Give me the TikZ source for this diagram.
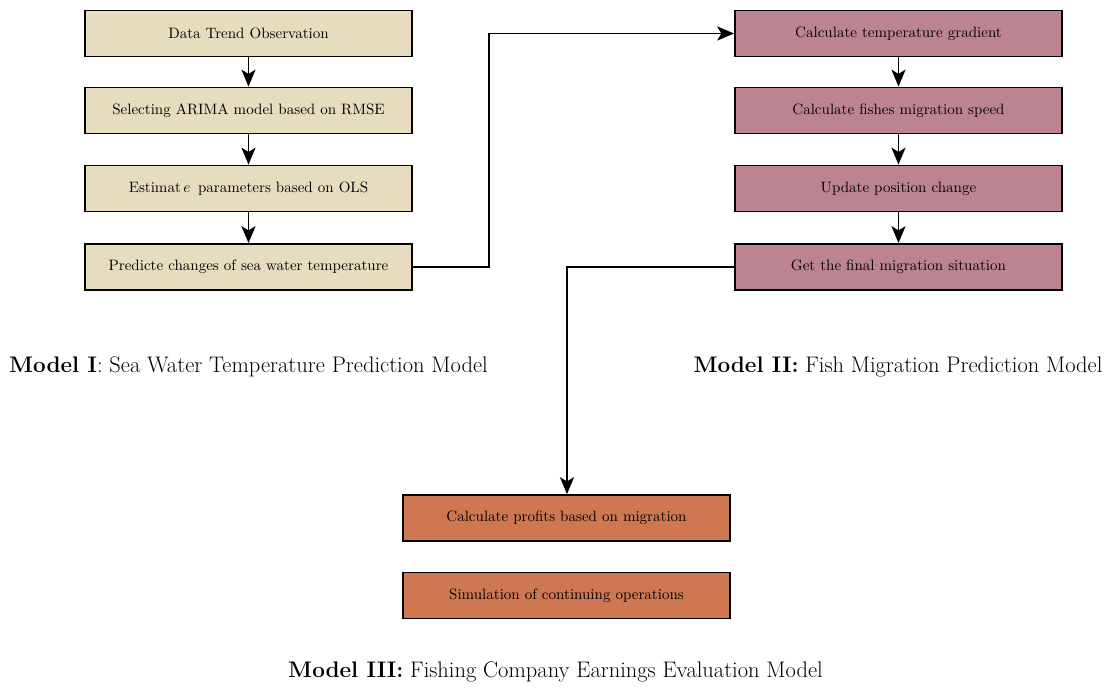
\documentclass[tikz,border=0pt]{standalone}
\usepackage{fontspec}
\usetikzlibrary{arrows.meta}
\definecolor{sandfill}{HTML}{E8DCBF}
\definecolor{mauvefill}{HTML}{BC8491}
\definecolor{rustfill}{HTML}{CE7750}
\begin{document}
\begin{tikzpicture}[x=0.025cm,y=-0.025cm,
  box/.style={draw=black,line width=1.3pt,minimum width=8.175cm,minimum height=1.15cm,
    inner sep=0pt,font=\fontsize{10.7}{12}\selectfont},
  sandbox/.style={box,fill=sandfill},
  mauvebox/.style={box,fill=mauvefill},
  rustbox/.style={box,fill=rustfill},
  link/.style={line width=1.4pt,-{Stealth[length=12pt,width=10pt,inset=3pt]}},
  caption/.style={font=\fontsize{16}{19}\selectfont,inner sep=0pt}]
\useasboundingbox (0,0) rectangle (1105,688);

% Model I
\node[sandbox] (a1) at (248.5,33.5) {Data Trend Observation};
\node[sandbox] (a2) at (248.5,110.5) {Selecting ARIMA model based on RMSE};
\node[sandbox] (a3) at (248.5,188.5) {Estimat\,$e$\, parameters based on OLS};
\node[sandbox] (a4) at (248.5,267) {Predicte changes of sea water temperature};

% Model II
\node[mauvebox] (b1) at (898.5,33.5) {Calculate temperature gradient};
\node[mauvebox] (b2) at (898.5,110.5) {Calculate fishes migration speed};
\node[mauvebox] (b3) at (898.5,188.5) {Update position change};
\node[mauvebox] (b4) at (898.5,267) {Get the final migration situation};

% Model III
\node[rustbox] (c1) at (566.5,518) {Calculate profits based on migration};
\node[rustbox] (c2) at (566.5,595.5) {Simulation of continuing operations};

\draw[link] (a1) -- (a2);
\draw[link] (a2) -- (a3);
\draw[link] (a3) -- (a4);
\draw[link] (b1) -- (b2);
\draw[link] (b2) -- (b3);
\draw[link] (b3) -- (b4);

\coordinate (j1) at (489,267);
\coordinate (j2) at (489,33.5);
\draw[link] (a4.east) -- (j1) -- (j2) -- (b1.west);
\coordinate (k1) at (567,267);
\draw[link] (b4.west) -- (k1) -- (c1.north -| k1);

\node[caption] (m1) at (248.5,367) {\textbf{Model I}: Sea Water Temperature Prediction Model};
\node[caption] (m2) at (898,367) {\textbf{Model II:} Fish Migration Prediction Model};
\node[caption] (m3) at (555.5,672) {\textbf{Model III:} Fishing Company Earnings Evaluation Model};
\end{tikzpicture}
\end{document}
